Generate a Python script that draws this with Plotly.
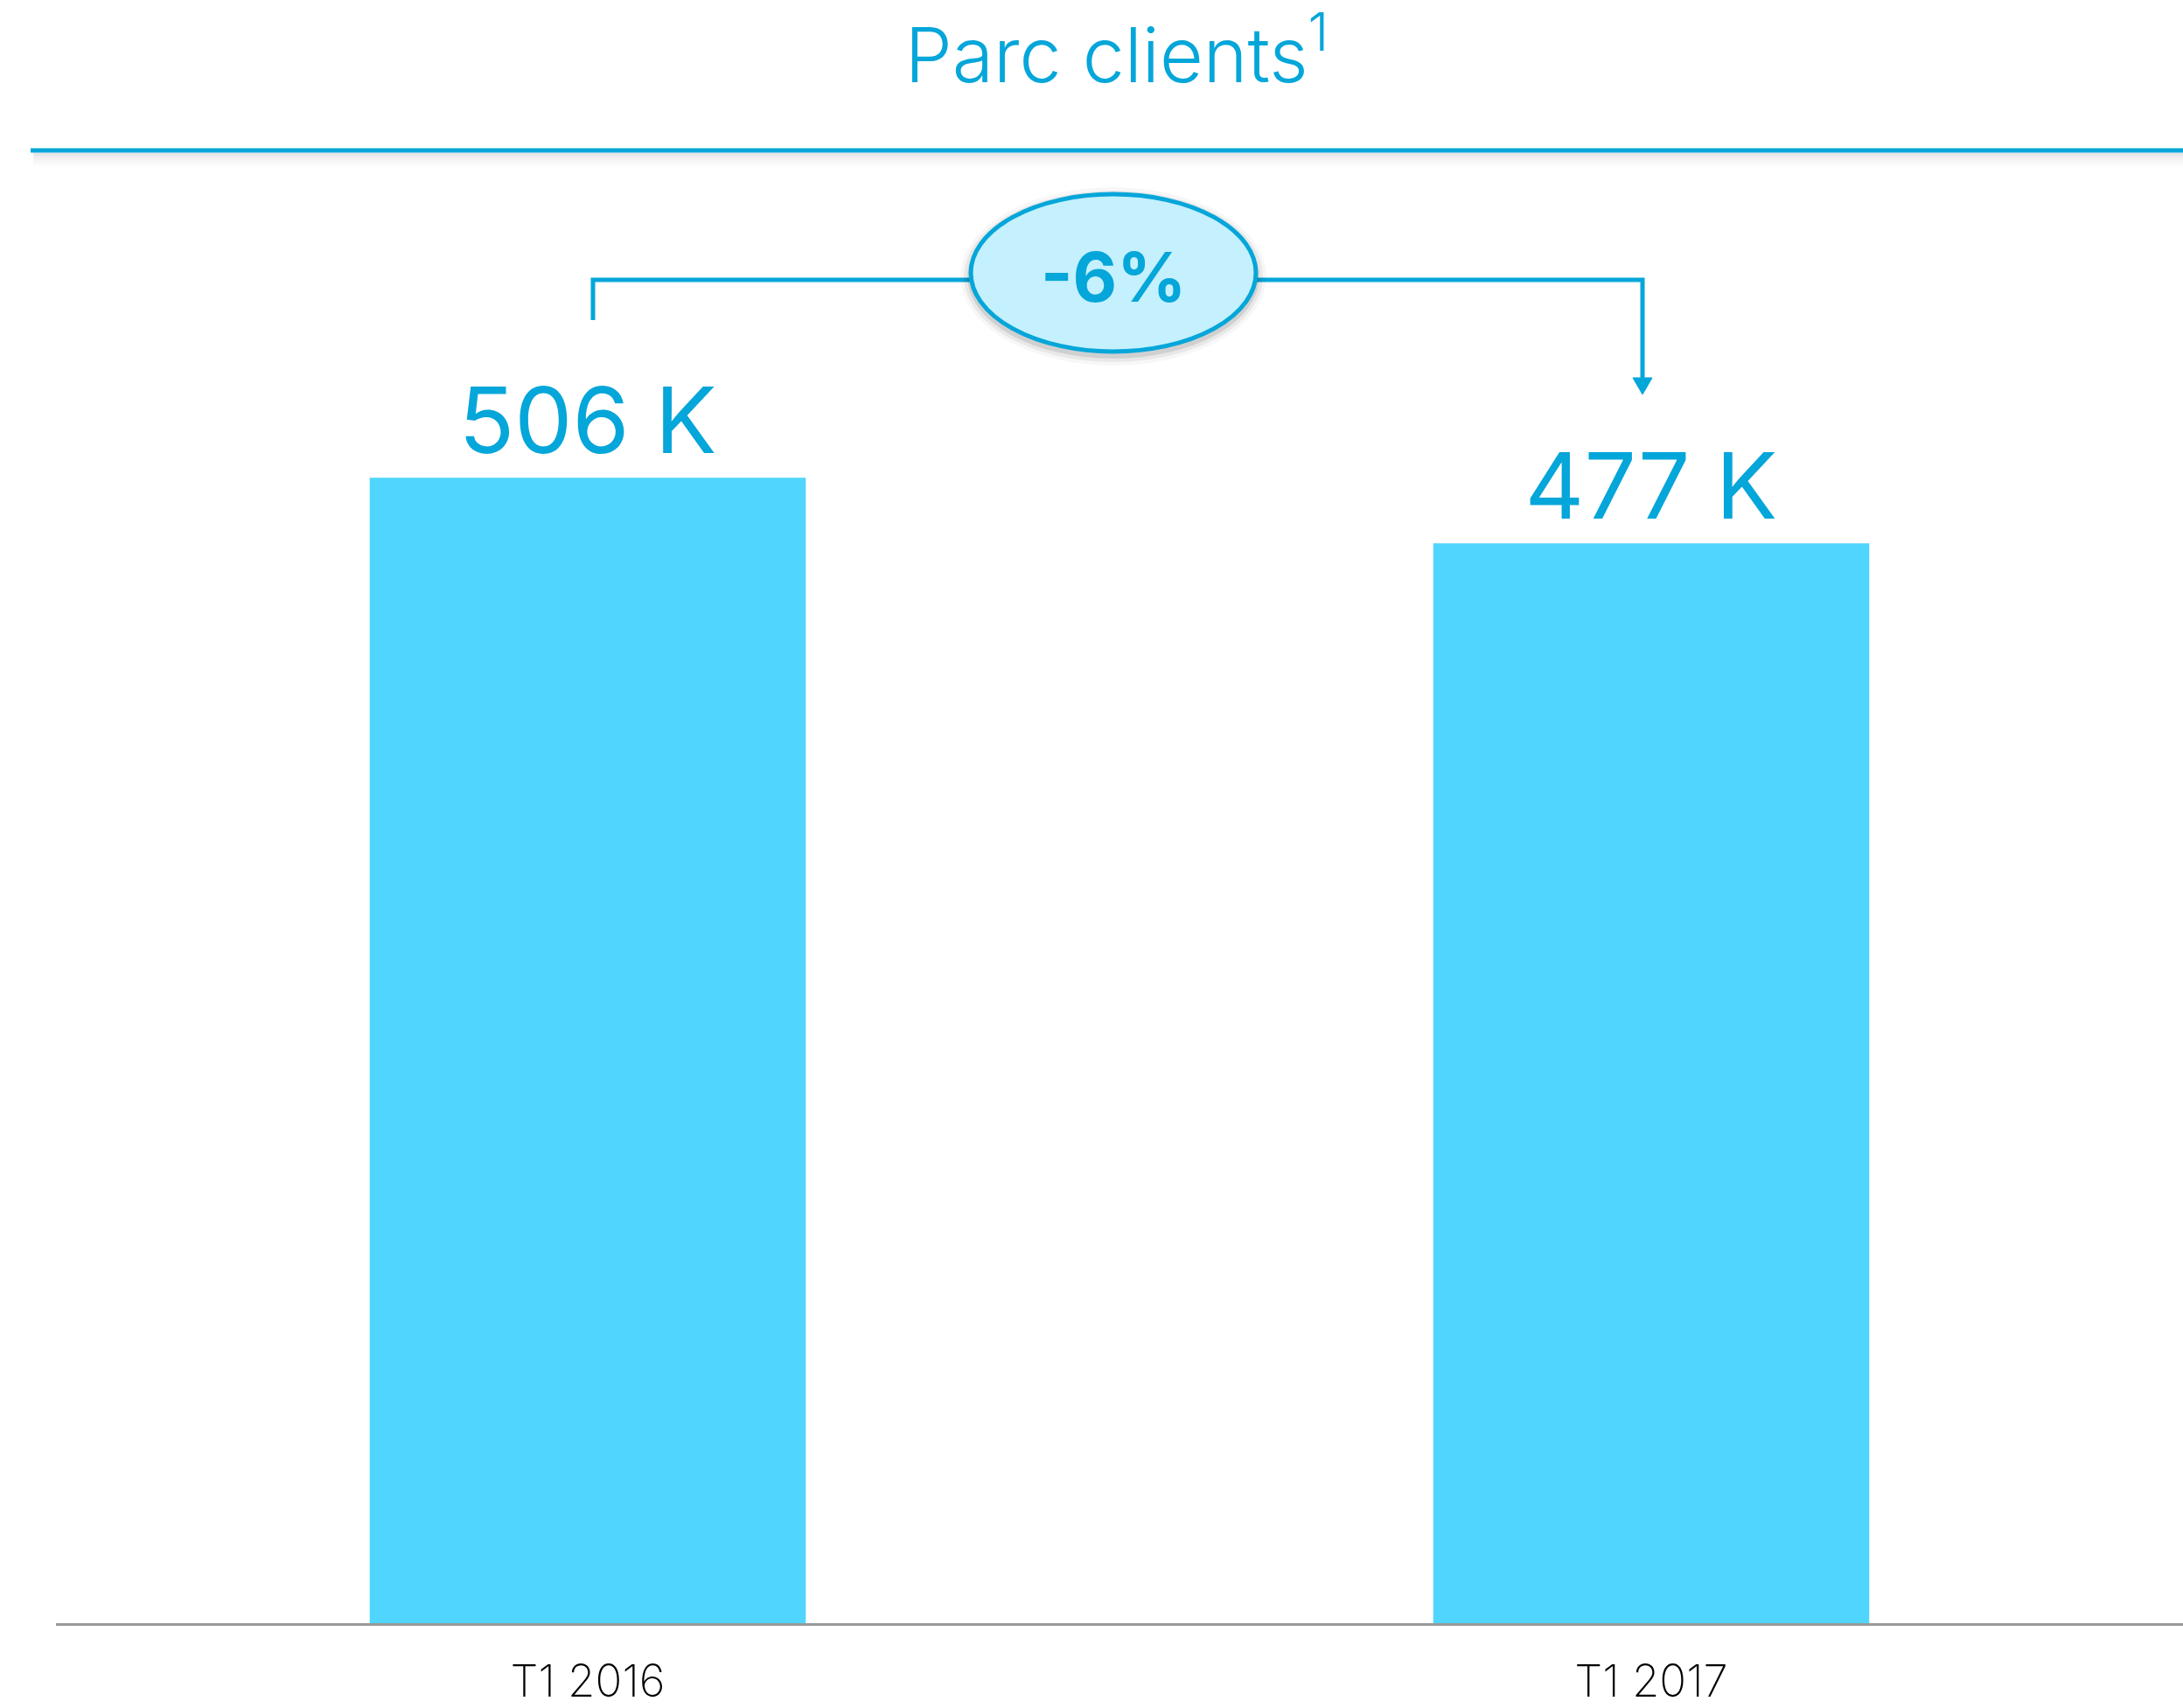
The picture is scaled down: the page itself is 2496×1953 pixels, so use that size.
import plotly.graph_objects as go

categories = ["T1 2016", "T1 2017"]
clients_k = [506, 477]
change_label = "-6%"
title_text = "Parc clients<sup>1</sup>"

W, H = 2496, 1953
ML, MR, MT, MB = 64, 0, 44, 97
YMAX = 700
BLUE = "#05A6D9"
BAR = "#50D5FE"
FONT = "Inter"

def px(x):
    return (x - ML) / (W - ML - MR)

def py(y):
    return (H - MB - y) / (H - MT - MB)

fig = go.Figure()
fig.add_trace(go.Bar(
    x=categories, y=clients_k, marker=dict(color=BAR, line=dict(width=0)),
    width=0.41,
    texttemplate="%{y} K", textposition="outside", constraintext="none",
    textfont=dict(size=105, color=BLUE, family=FONT, weight=400),
    cliponaxis=False, hoverinfo="skip",
))

shapes = []
# top rule shadow
for i, a in enumerate([0.10, 0.07, 0.05, 0.03, 0.015]):
    shapes.append(dict(type="line", xref="paper", yref="paper",
                       x0=px(38), x1=px(W), y0=py(176 + i * 3), y1=py(176 + i * 3),
                       line=dict(color=f"rgba(0,0,0,{a})", width=3), layer="below"))
shapes.append(dict(type="line", xref="paper", yref="paper",
                   x0=px(35), x1=px(W), y0=py(172), y1=py(172),
                   line=dict(color=BLUE, width=5)))
# bracket
shapes.append(dict(type="path", xref="paper", yref="paper",
                   path=f"M {px(678)},{py(366)} L {px(678)},{py(320)} L {px(1878)},{py(320)} L {px(1878)},{py(436)}",
                   line=dict(color=BLUE, width=5)))
shapes.append(dict(type="path", xref="paper", yref="paper",
                   path=f"M {px(1867)},{py(432)} L {px(1889)},{py(432)} L {px(1878)},{py(451)} Z",
                   fillcolor=BLUE, line=dict(color=BLUE, width=1)))
# ellipse shadow
for i, a in enumerate([0.10, 0.06, 0.03]):
    d = 3 + i * 4
    shapes.append(dict(type="circle", xref="paper", yref="paper",
                       x0=px(1109 - d), x1=px(1437 + d), y0=py(222 - d + 3), y1=py(404 + d + 3),
                       fillcolor=f"rgba(0,0,0,{a})", line=dict(width=0)))
shapes.append(dict(type="circle", xref="paper", yref="paper",
                   x0=px(1110), x1=px(1436), y0=py(222), y1=py(402),
                   fillcolor="#C5F0FD", line=dict(color=BLUE, width=5)))

fig.update_layout(
    width=W, height=H,
    margin=dict(l=ML, r=MR, t=MT, b=MB, pad=0, autoexpand=False),
    paper_bgcolor="white", plot_bgcolor="white",
    showlegend=False,
    shapes=shapes,
    title=dict(text=title_text, x=1277 / W, xanchor="center",
               y=1 - 64 / H, yanchor="middle", yref="container",
               font=dict(size=86, color=BLUE, family=FONT, weight=300)),
    annotations=[dict(text=f"<b>{change_label}</b>", xref="paper", yref="paper",
                      x=px(1273), y=py(316), xanchor="center", yanchor="middle",
                      showarrow=False,
                      font=dict(size=78, color=BLUE, family=FONT, weight=800))],
    xaxis=dict(type="category", range=[-0.5, 1.5], showgrid=False, automargin=False,
               showline=True, linecolor="#999999", linewidth=3,
               ticks="outside", ticklen=20, tickcolor="rgba(0,0,0,0)",
               tickfont=dict(size=51, color="black", family=FONT, weight=200)),
    yaxis=dict(range=[0, YMAX], visible=False, showgrid=False, zeroline=False,
               automargin=False),
    bargap=0.59,
)

fig.write_html("out.html", config={"displayModeBar": False},
               post_script="document.body.style.margin='0';document.body.style.overflow='hidden';")
